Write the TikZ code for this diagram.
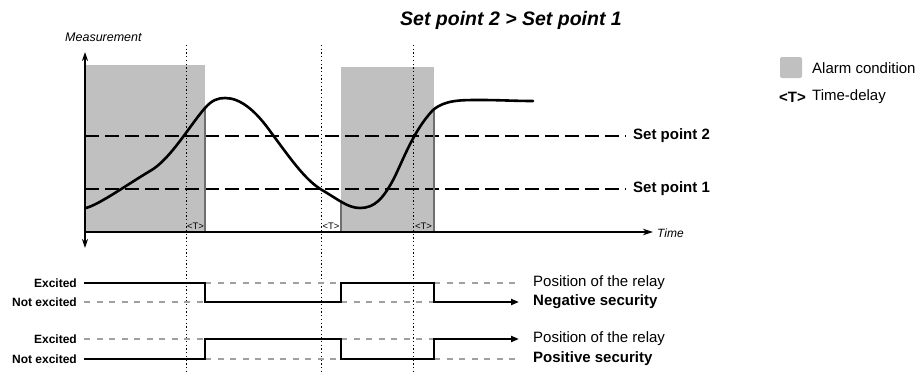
\documentclass[tikz,border=0pt]{standalone}
\usepackage{fontspec}
\setmainfont{Liberation Sans}
\usetikzlibrary{arrows.meta}
\definecolor{alarmgray}{RGB}{192,192,192}
\definecolor{edgegray}{RGB}{110,110,110}
\definecolor{levelgray}{RGB}{160,160,160}
\begin{document}
\begin{tikzpicture}[x=1pt,y=-1pt,
  every node/.style={inner sep=0pt},
  alarm/.style={fill=alarmgray,draw=none},
  edgeline/.style={draw=edgegray,line width=1.6pt},
  guide/.style={draw=black,line width=0.9pt,dash pattern=on 1.3pt off 2.4pt},
  setline/.style={draw=black,line width=2.2pt,dash pattern=on 13.5pt off 6.5pt},
  axisline/.style={draw=black,line width=2pt},
  relay/.style={draw=black,line width=2.6pt},
  level/.style={draw=levelgray,line width=2pt,dash pattern=on 6pt off 6.5pt},
  lbl/.style={font=\fontsize{12}{14}\selectfont\bfseries,anchor=east},
  rlbl/.style={font=\fontsize{15}{17}\selectfont,anchor=west},
  tlbl/.style={font=\fontsize{9.5}{11}\selectfont}]
\useasboundingbox (0,0) rectangle (920,378);
% alarm zones
\path[alarm] (85,65) rectangle (205,232);
\path[alarm] (341,67) rectangle (434,232);
% guide lines
\draw[guide] (186,45) -- (186,372);
\draw[guide] (321,45) -- (321,372);
\draw[guide] (413,45) -- (413,372);
% set points
\draw[setline] (85,136) -- (626,136);
\draw[setline] (85,189) -- (626,189);
\node[font=\fontsize{15}{17}\selectfont\bfseries,anchor=west] (sp2) at (633,136) {Set point 2};
\node[font=\fontsize{15}{17}\selectfont\bfseries,anchor=west] (sp1) at (633,189) {Set point 1};
% edges
\draw[edgeline] (205,109) -- (205,232);
\draw[edgeline] (341,203) -- (341,232);
\draw[edgeline] (434,110) -- (434,232);
% curve
\draw[line width=2.6pt,line cap=round]
  (86,208) .. controls (100,204) and (125,186) .. (150,171)
  .. controls (170,160) and (190,125) .. (205,108)
  .. controls (212,100) and (218,98) .. (225,98)
  .. controls (240,98) and (255,110) .. (270,131)
  .. controls (290,158) and (305,180) .. (322,190)
  .. controls (339,200) and (348,208) .. (360,208)
  .. controls (375,208) and (383,198) .. (392,182)
  .. controls (401,166) and (412,132) .. (433,110)
  .. controls (445,100) and (460,100) .. (480,100)
  .. controls (500,100) and (515,101) .. (533,101);
% axes
\draw[axisline,{Stealth[length=9pt,width=6pt]}-{Stealth[length=9pt,width=6pt]}] (85,248) -- (85,52);
\draw[axisline,-{Stealth[length=10pt,width=6.5pt]}] (85,232) -- (653,232);
\node[font=\fontsize{12.5}{14}\selectfont\itshape,anchor=west] (meas) at (65,37) {Measurement};
\node[font=\fontsize{12}{14}\selectfont\itshape,anchor=west] (time) at (657,233) {Time};
% time delay marks
\node[tlbl] (t1) at (195.5,226) {<T>};
\node[tlbl] (t2) at (331,226) {<T>};
\node[tlbl] (t3) at (423.5,226) {<T>};
% title
\node[font=\fontsize{19.5}{22}\selectfont\bfseries\itshape] (title) at (511,20) {Set point 2 > Set point 1};
% legend
\path[alarm,rounded corners=2pt] (780,57) rectangle (802,78);
\node[rlbl] (al) at (812,68) {Alarm condition};
\node[font=\fontsize{15}{17}\selectfont\bfseries,anchor=east] (tk) at (806,97) {<T>};
\node[rlbl] (td) at (812,97) {Time-delay};
% negative security
\node[lbl] (e1) at (77,283) {Excited};
\node[lbl] (n1) at (77,302) {Not excited};
\draw[level] (84,302) -- (205,302) (205,283) -- (341,283) (341,302) -- (434,302) (434,283) -- (517,283);
\draw[relay,-{Triangle[length=8pt,width=6pt]}] (84,283) -- (205,283) -- (205,302) -- (341,302) -- (341,283) -- (434,283) -- (434,302) -- (519,302);
\node[rlbl] (p1) at (533,283) {Position of the relay};
\node[rlbl,font=\fontsize{15}{17}\selectfont\bfseries] (ns) at (533,302) {Negative security};
% positive security
\node[lbl] (e2) at (77,339) {Excited};
\node[lbl] (n2) at (77,359) {Not excited};
\draw[level] (84,339) -- (205,339) (205,359) -- (341,359) (341,339) -- (434,339) (434,359) -- (517,359);
\draw[relay,-{Triangle[length=8pt,width=6pt]}] (84,359) -- (205,359) -- (205,339) -- (341,339) -- (341,359) -- (434,359) -- (434,339) -- (519,339);
\node[rlbl] (p2) at (533,339) {Position of the relay};
\node[rlbl,font=\fontsize{15}{17}\selectfont\bfseries] (ps) at (533,359) {Positive security};
\end{tikzpicture}
\end{document}
